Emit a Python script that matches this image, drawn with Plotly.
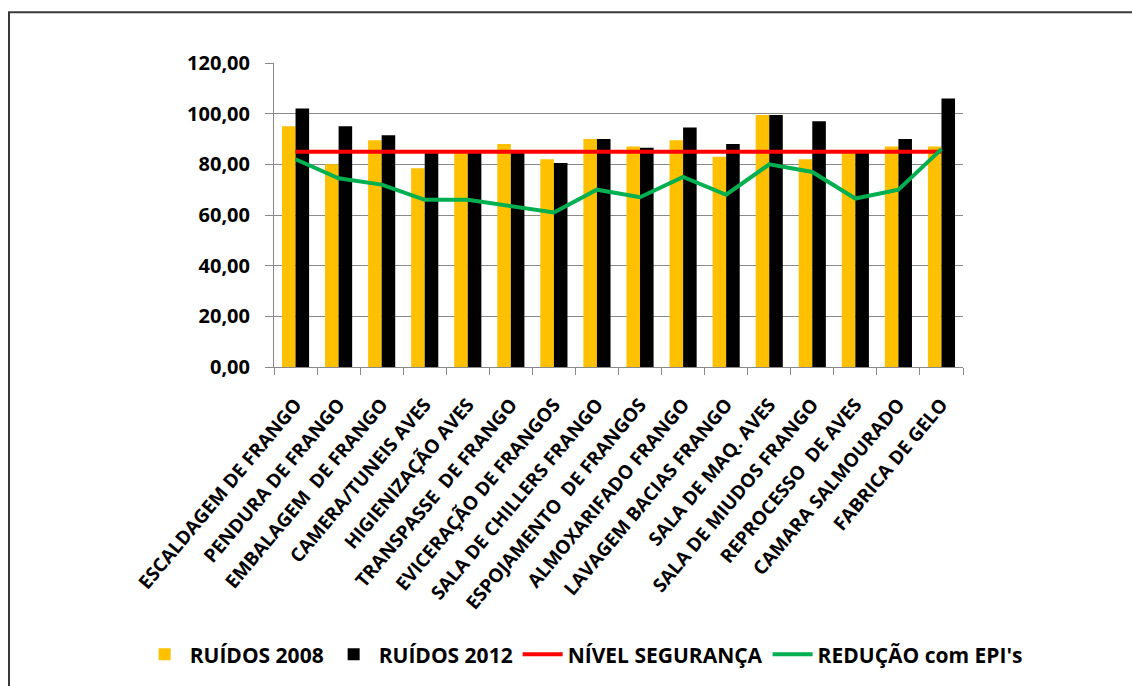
import plotly.graph_objects as go

categories = [
    "ESCALDAGEM DE FRANGO", "PENDURA DE FRANGO", "EMBALAGEM  DE FRANGO",
    "CAMERA/TUNEIS AVES", "HIGIENIZAÇÃO AVES", "TRANSPASSE  DE FRANGO",
    "EVICERAÇÃO DE FRANGOS", "SALA DE CHILLERS FRANGO", "ESPOJAMENTO  DE FRANGOS",
    "ALMOXARIFADO FRANGO", "LAVAGEM BACIAS FRANGO", "SALA DE MAQ. AVES",
    "SALA DE MIUDOS FRANGO", "REPROCESSO  DE AVES", "CAMARA SALMOURADO",
    "FABRICA DE GELO",
]
ruidos_2008 = [95, 80, 89.5, 78.5, 85, 88, 82, 90, 87, 89.5, 83, 99.5, 82, 85, 87, 87]
ruidos_2012 = [102, 95, 91.5, 85, 85, 85, 80.5, 90, 86.5, 94.5, 88, 99.5, 97, 85, 90, 106]
nivel_seguranca = [85] * 16
reducao_epi = [82, 74.5, 72, 66, 66, 63.5, 61, 70, 67, 75, 68, 80, 77, 66.5, 70, 86]
y_ticks = [0, 20, 40, 60, 80, 100, 120]

FONT = "Open Sans"

fig = go.Figure()
fig.add_trace(go.Bar(x=categories, y=ruidos_2008, name="RUÍDOS 2008",
                     marker=dict(color="#FFC000", line=dict(width=0))))
fig.add_trace(go.Bar(x=categories, y=ruidos_2012, name="RUÍDOS 2012",
                     marker=dict(color="#000000", line=dict(width=0))))
fig.add_trace(go.Scatter(x=categories, y=nivel_seguranca, name="NÍVEL SEGURANÇA",
                         mode="lines", line=dict(color="#FF0000", width=4)))
fig.add_trace(go.Scatter(x=categories, y=reducao_epi, name="REDUÇÃO com EPI's",
                         mode="lines", line=dict(color="#00B050", width=4)))

fig.update_layout(
    width=1132, height=686, autosize=False,
    margin=dict(l=274, r=169, t=63, b=318),
    paper_bgcolor="white", plot_bgcolor="white",
    barmode="group", bargap=0.37, bargroupgap=0,
    separators=",.",
    font=dict(family=FONT, color="#000000"),
    legend=dict(orientation="h", x=-0.195, xanchor="left", y=-0.94, yanchor="middle",
                font=dict(family=FONT, size=21, color="#000000", weight="bold"),
                itemwidth=40, tracegroupgap=0, bgcolor="rgba(0,0,0,0)"),
    shapes=[dict(type="rect", xref="paper", yref="paper", x0=-0.3846, y0=-2, x1=2, y1=1.167,
                 line=dict(color="#3a3a3a", width=2), layer="below")],
)
fig.update_xaxes(
    showline=True, linecolor="#888888", linewidth=1,
    ticks="outside", tickson="boundaries", ticklen=7, tickcolor="#888888",
    tickangle=-50, tickfont=dict(family=FONT, size=19, color="#000000", weight="bold"),
    ticklabelstandoff=18,
    showgrid=False,
)
fig.update_yaxes(
    range=[0, 120], tickvals=y_ticks, tickformat=".2f",
    showline=True, linecolor="#888888", linewidth=1,
    ticks="outside", ticklen=8, tickcolor="#888888",
    showgrid=True, gridcolor="#888888", gridwidth=1, zeroline=False,
    tickfont=dict(family=FONT, size=20, color="#000000", weight="bold"),
    ticklabelstandoff=11,
)

fig.write_html("out.html")
